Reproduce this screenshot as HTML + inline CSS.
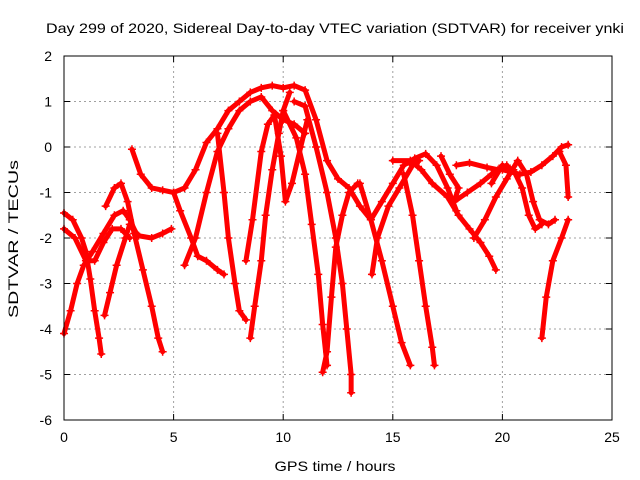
<!DOCTYPE html>
<html><head><meta charset="utf-8"><style>
body{margin:0;background:#fff}
svg{display:block;font-family:"Liberation Sans",sans-serif}
</style></head><body>
<svg id="chart" width="640" height="480" viewBox="0 0 640 480">
<rect width="640" height="480" fill="#fff"/>
<text x="335" y="33" font-size="14" text-anchor="middle" textLength="578" lengthAdjust="spacingAndGlyphs">Day 299 of 2020, Sidereal Day-to-day VTEC variation (SDTVAR) for receiver ynki</text>
<text x="335" y="471" font-size="14" text-anchor="middle" textLength="121" lengthAdjust="spacingAndGlyphs">GPS time / hours</text>
<text transform="translate(18,239) rotate(-90)" font-size="14" text-anchor="middle" textLength="158" lengthAdjust="spacingAndGlyphs">SDTVAR / TECUs</text>
<g id="grid"></g>
<g id="ticks"></g>
<g id="series"></g>
<rect x="64" y="56" width="548" height="364" fill="none" stroke="#000" stroke-width="1"/>
</svg>
<script>
const xTicks=[0,5,10,15,20,25];
const yTicks=[-6,-5,-4,-3,-2,-1,0,1,2];
const tA=[[0,-1.45],[0.4,-1.6],[0.8,-2.0],[1.0,-2.3],[1.2,-2.9],[1.4,-3.6],[1.6,-4.2],[1.7,-4.55]];
const tB=[[0,-4.1],[0.3,-3.6],[0.6,-3.0],[0.9,-2.6],[1.3,-2.3],[1.8,-1.9],[2.3,-1.5],[2.7,-1.4],[3.0,-1.6],[3.3,-1.9]];
const tC=[[1.9,-1.3],[2.3,-0.9],[2.6,-0.8],[2.9,-1.2],[3.2,-1.9],[3.6,-2.7],[4.0,-3.5],[4.3,-4.2],[4.5,-4.5]];
const tD=[[1.85,-3.7],[2.1,-3.2],[2.4,-2.6],[2.8,-2.0],[3.0,-1.7],[3.4,-1.95],[4.0,-2.0],[4.5,-1.9],[4.9,-1.8]];
const tE=[[0,-1.8],[0.5,-2.0],[1.0,-2.5],[1.4,-2.5],[1.8,-2.1],[2.2,-1.8],[2.6,-1.8],[3.0,-2.0]];
const tF=[[3.1,-0.05],[3.5,-0.6],[4.0,-0.9],[4.5,-0.95],[5.0,-1.0],[5.5,-0.9],[6.0,-0.5],[6.5,0.1],[7.0,0.4],[7.5,0.8],[8.0,1.0],[8.5,1.2],[9.0,1.3],[9.5,1.35],[10.0,1.3],[10.5,1.35],[11.0,1.25],[11.5,0.6],[12.0,-0.3],[12.5,-0.7],[13.0,-0.9],[13.5,-1.3],[14.0,-1.6],[14.5,-1.2],[15.0,-0.8],[15.5,-0.4],[16.0,-0.25],[16.5,-0.15],[17.0,-0.4],[17.5,-0.9],[17.9,-1.4]];
const tG=[[5.0,-1.0],[5.3,-1.4],[5.8,-2.0],[6.1,-2.4],[6.5,-2.5],[7.0,-2.7],[7.3,-2.8]];
const tH=[[5.5,-2.6],[6.0,-2.0],[6.5,-1.0],[7.0,-0.1],[7.5,0.4],[8.0,0.8],[8.5,1.0],[9.0,1.1],[9.5,0.8],[10.0,0.6],[10.5,0.5],[11.0,0.3]];
const tI=[[7.0,0.3],[7.3,-1.0],[7.5,-2.0],[7.8,-3.0],[8.0,-3.6],[8.3,-3.8]];
const tJ=[[8.5,-4.2],[8.7,-3.5],[9.0,-2.5],[9.2,-1.5],[9.5,-0.5],[9.8,0.3],[10.0,0.8],[10.3,1.2]];
const tK=[[8.3,-2.5],[8.6,-1.6],[9.0,-0.1],[9.3,0.5],[9.6,0.7]];
const tL=[[9.6,0.7],[9.9,-0.2],[10.1,-1.2],[10.4,-0.8],[10.8,0.0],[11.1,0.6]];
const tM=[[11.8,-4.95],[12.0,-4.5],[12.2,-3.3],[12.4,-2.2],[12.7,-1.5],[13.0,-1.0],[13.4,-0.8]];
const tN=[[10.5,1.0],[11.0,0.9],[11.5,0.0],[12.0,-1.0],[12.4,-2.0],[12.7,-3.0],[12.9,-4.0],[13.1,-5.0],[13.1,-5.4]];
const tO=[[10.0,0.8],[10.6,0.2],[11.0,-0.6],[11.3,-1.7],[11.6,-2.8],[11.8,-3.9],[12.0,-4.8]];
const tX=[[13.5,-0.8],[14.0,-1.6],[14.5,-2.5],[15.0,-3.5],[15.4,-4.3],[15.8,-4.8]];
const tY=[[15.5,-0.6],[15.9,-1.5],[16.2,-2.5],[16.5,-3.5],[16.8,-4.4],[16.9,-4.8]];
const tZ=[[14.05,-2.8],[14.3,-2.0],[14.8,-1.3],[15.3,-0.9],[15.9,-0.4],[16.2,-0.3]];
const tP=[[15.0,-0.3],[15.8,-0.3],[16.3,-0.5],[16.8,-0.8],[17.5,-1.1],[18.0,-1.5],[18.5,-1.8],[19.0,-2.1],[19.4,-2.4],[19.7,-2.7]];
const tQ=[[17.2,-0.2],[17.6,-0.6],[18.0,-0.9],[17.8,-1.2],[18.4,-1.0],[19.0,-0.8],[19.5,-0.6],[20.2,-0.4]];
const tQ2=[[17.9,-0.4],[18.5,-0.35],[19.3,-0.45],[19.8,-0.5]];
const tR=[[18.7,-2.0],[19.2,-1.6],[19.7,-1.1],[20.2,-0.7],[20.7,-0.3],[21.1,-0.6],[21.4,-1.2],[21.7,-1.6],[22.1,-1.7],[22.4,-1.6]];
const tS=[[20.0,-0.5],[20.8,-0.6],[21.3,-0.55],[21.8,-0.4],[22.3,-0.2],[22.7,0.0],[23.0,0.05]];
const tT=[[22.6,-0.1],[22.9,-0.4],[23.0,-1.1]];
const tU=[[21.8,-4.2],[22.0,-3.3],[22.3,-2.5],[22.7,-2.0],[23.0,-1.6]];
const tV=[[19.5,-0.8],[20.0,-0.4],[20.5,-0.5],[20.9,-0.9],[21.2,-1.5],[21.5,-1.8],[21.8,-1.7]];
const tracks=[tA,tB,tC,tD,tE,tF,tG,tH,tI,tJ,tK,tL,tM,tN,tO,tX,tY,tZ,tP,tQ,tQ2,tR,tS,tT,tU,tV];

const NS='http://www.w3.org/2000/svg';
const X=h=>64+h*(548/25);
const Y=v=>56+(2-v)*(364/8);
function mk(tag,attrs,parent){const e=document.createElementNS(NS,tag);for(const k in attrs)e.setAttribute(k,attrs[k]);parent.appendChild(e);return e;}
const grid=document.getElementById('grid'),ticks=document.getElementById('ticks'),ser=document.getElementById('series');
xTicks.forEach(t=>{
  if(t>0&&t<25){const g=mk('line',{x1:X(t),x2:X(t),y1:56,y2:420,stroke:'#a0a0a0','stroke-dasharray':'2,3'},grid);
  
  }
  mk('line',{x1:X(t),x2:X(t),y1:420,y2:414,stroke:'#000'},ticks);
  mk('line',{x1:X(t),x2:X(t),y1:56,y2:62,stroke:'#000'},ticks);
  const l=mk('text',{x:X(t),y:442,'font-size':14,'text-anchor':'middle'},ticks);l.textContent=t;
  
  
});
yTicks.forEach(t=>{
  if(t>-6&&t<2){const g=mk('line',{x1:64,x2:612,y1:Y(t),y2:Y(t),stroke:'#a0a0a0','stroke-dasharray':'2,3'},grid);
  
  }
  mk('line',{x1:64,x2:70,y1:Y(t),y2:Y(t),stroke:'#000'},ticks);
  mk('line',{x1:606,x2:612,y1:Y(t),y2:Y(t),stroke:'#000'},ticks);
  const l=mk('text',{x:52,y:Y(t)+5,'font-size':14,'text-anchor':'end'},ticks);l.textContent=t;
  
  
});
tracks.forEach(tr=>{
  const pts=tr.map(p=>X(p[0])+','+Y(p[1])).join(' ');
  const pl=mk('polyline',{points:pts,fill:'none',stroke:'#ff0000','stroke-width':5,'stroke-linejoin':'round','stroke-linecap':'round'},ser);
  
  
  tr.forEach(p=>{
    const x=X(p[0]),y=Y(p[1]);
    const m=mk('path',{d:`M${x-4},${y}H${x+4}M${x},${y-4}V${y+4}`,stroke:'#ff0000','stroke-width':1.5},ser);
    
    
  });
});
</script>
</body></html>
